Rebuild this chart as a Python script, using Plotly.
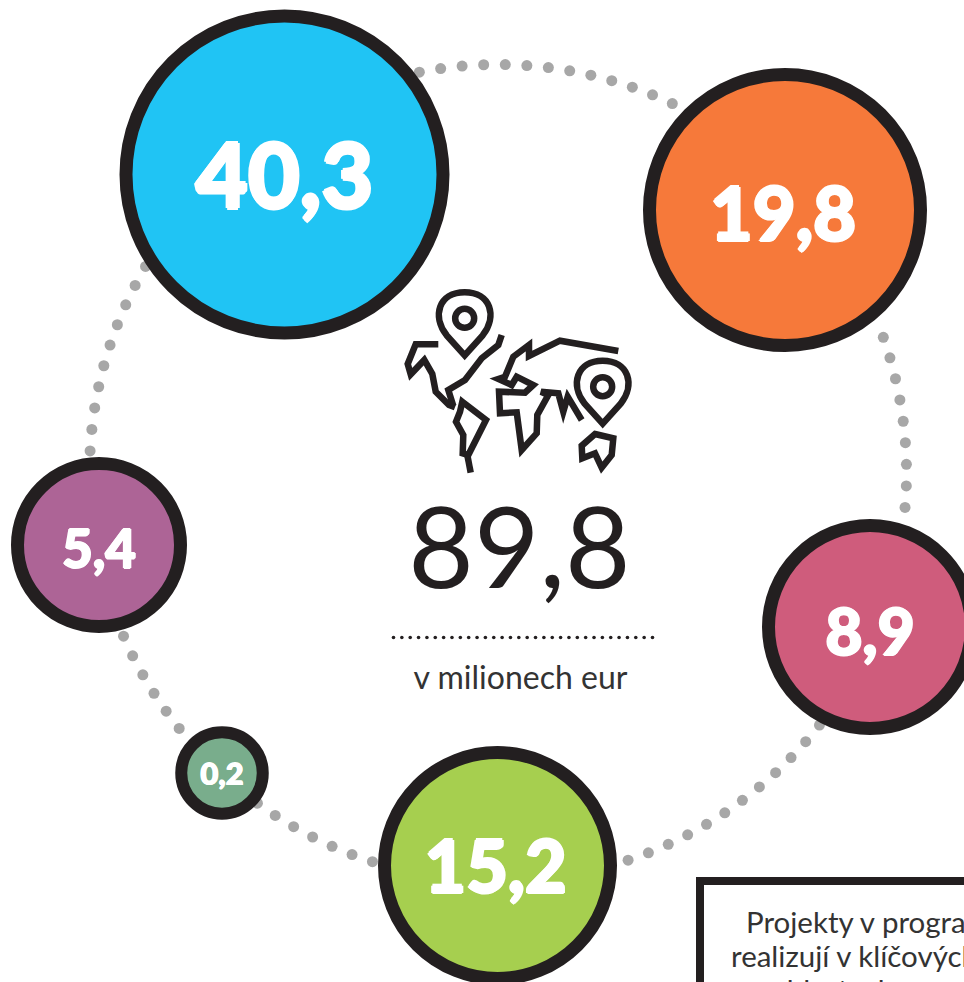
import numpy as np
import plotly.graph_objects as go

# --- data
labels = ["40,3", "19,8", "8,9", "15,2", "0,2", "5,4"]
total_label = "89,8"
unit_label = "v milionech eur"
note_lines = ["Projekty v programu", "realizují v klíčových", "oblastech rozvoje"]

# --- layout / style
colors = ["#20c4f4", "#f6793a", "#cf5c7c", "#a6cf4f", "#79ad8c", "#ad6496"]
cx = [284.5, 785, 870, 497.5, 222, 99]
cy = [174.5, 210, 627, 865.5, 773, 545]
outer = [330, 284, 216, 239, 93.5, 176]
stroke = [13, 13, 13, 13, 12, 13]
fsize = [90, 74, 64, 72, 31, 53]
text_dy = [11, 12, 12, 9, 4, 10]
text_dx = [0, -2, 0, -2, 0, 0]
INK = "#231f20"
W, H = 964, 982

ring_c, ring_r = (498, 473), 408.5
arcs = [(101.1, 13), (19.4, 9), (-38.1, 12), (-107.9, 7), (-141.3, 6), (176.9, 10)]
STEP = 3.03
ang = np.concatenate([a0 - STEP * np.arange(n) for a0, n in arcs])
rx = ring_c[0] + ring_r * np.cos(np.radians(ang))
ry = ring_c[1] - ring_r * np.sin(np.radians(ang))

fig = go.Figure()
fig.add_trace(go.Scatter(x=rx, y=ry, mode="markers",
                         marker=dict(size=11, color="#a7a7a7"), hoverinfo="skip"))
fig.add_trace(go.Scatter(x=cx, y=cy, mode="markers",
                         marker=dict(size=[o - s for o, s in zip(outer, stroke)], color=colors,
                                     opacity=1, line=dict(color=INK, width=stroke)),
                         hoverinfo="skip"))
for lab, x, y, dx, dy, fs in zip(labels, cx, cy, text_dx, text_dy, fsize):
    h = round(fs * 0.018, 2)
    halo = f"{h}px 0 0 white,-{h}px 0 0 white,0 {h}px 0 white,0 -{h}px 0 white"
    fig.add_trace(go.Scatter(x=[x + dx], y=[y + dy], mode="text", text=[lab],
                             textposition="middle center",
                             textfont=dict(family="Lato", size=fs, color="white", weight=900, shadow=halo),
                             hoverinfo="skip"))
# dotted rule
fig.add_trace(go.Scatter(x=np.linspace(393.5, 652.5, 32), y=[637.5] * 32, mode="markers",
                         marker=dict(size=3.6, color=INK), hoverinfo="skip"))
# centre texts
fig.add_trace(go.Scatter(x=[519.5], y=[560], mode="text", text=[total_label],
                         textposition="middle center",
                         textfont=dict(family="Lato", size=113, color=INK),
                         hoverinfo="skip"))
fig.add_trace(go.Scatter(x=[520.5], y=[681], mode="text", text=[unit_label],
                         textposition="middle center",
                         textfont=dict(family="Lato", size=32, color="#333333"),
                         hoverinfo="skip"))
# note box text
fig.add_trace(go.Scatter(x=[746, 731, 770], y=[926, 960, 994], mode="text", text=note_lines,
                         textposition="middle right",
                         textfont=dict(family="Lato", size=29.5, color="#333333"),
                         hoverinfo="skip"))

# icon, traced in a local frame
def P(x, y):
    return 380 + x / 3, 280 + y / 3

def poly(points, close=False):
    s = "M" + " L".join("%.1f,%.1f" % P(*p) for p in points)
    return s + (" Z" if close else "")

def pin(x, y):
    ax, ay = P(x, y)
    tip = 37
    return (f"M{ax},{ay + tip} L{ax - 18},{ay + 17} C{ax - 33},{ay - 2} {ax - 26},{ay - 26} {ax},{ay - 26} "
            f"C{ax + 26},{ay - 26} {ax + 33},{ay - 2} {ax + 18},{ay + 17} Z")

icon = [
    pin(254, 115), pin(668, 320),
    poly([(175, 193), (107, 193), (83, 252), (92, 283), (133, 240), (157, 282), (167, 335), (207, 375), (225, 382)]),
    poly([(247, 365), (318, 420), (265, 525), (248, 520), (250, 465), (228, 425), (240, 395)], True),
    poly([(262, 525), (272, 578)]),
    poly([(365, 165), (355, 195), (305, 235), (255, 300), (205, 330), (220, 378)]),
    poly([(715, 213), (540, 182), (447, 228), (447, 195), (400, 230), (375, 290), (355, 297), (395, 315),
          (410, 290), (460, 315), (435, 338), (357, 335), (360, 400), (410, 397), (425, 510), (470, 460),
          (472, 405), (505, 345), (483, 335), (535, 340), (550, 395), (563, 350), (605, 420)]),
    poly([(645, 462), (700, 475), (695, 525), (665, 563), (645, 520), (607, 535), (605, 497)], True),
]
shapes = [dict(type="path", path=p, line=dict(color=INK, width=6.5), layer="above") for p in icon]
for x, y in [(254, 115), (668, 320)]:
    ax, ay = P(x, y)
    shapes.append(dict(type="circle", x0=ax - 9.5, x1=ax + 9.5, y0=ay - 9.5, y1=ay + 9.5,
                       line=dict(color=INK, width=6.5), layer="above"))
shapes.append(dict(type="rect", x0=700, x1=1100, y0=881, y1=1100, line=dict(color=INK, width=8), layer="below"))

fig.update_layout(
    width=W, height=H, margin=dict(l=0, r=0, t=0, b=0), showlegend=False,
    paper_bgcolor="white", plot_bgcolor="white", shapes=shapes,
    xaxis=dict(range=[0, W], visible=False, fixedrange=True),
    yaxis=dict(range=[H, 0], visible=False, fixedrange=True),
)
fig.write_html("out.html", config=dict(displayModeBar=False),
               post_script="document.body.style.margin='0';document.body.style.overflow='hidden';")
